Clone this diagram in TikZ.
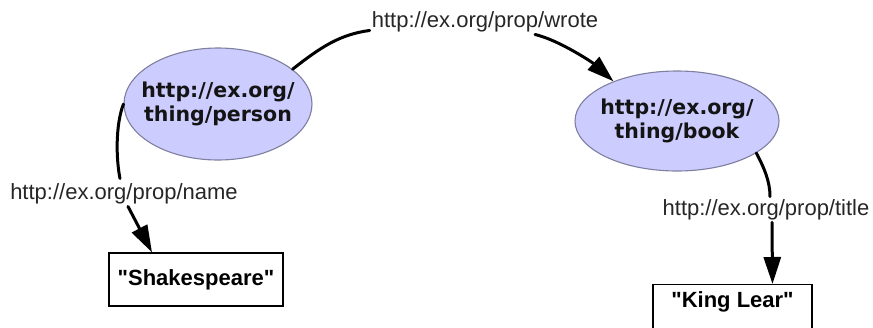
\documentclass[tikz,border=0pt]{standalone}
\usepackage{fontspec}
\setmainfont{Liberation Sans}
\newfontfamily\resfont{DejaVu Sans}
% plain family without TeX ligatures, so that " stays a straight quote
\newfontfamily\litfont{Liberation Sans}
\usetikzlibrary{arrows.meta,calc,shapes.geometric}
\definecolor{resfill}{HTML}{CCCCFF}
\definecolor{resline}{HTML}{7F7FA0}
\begin{document}
\begin{tikzpicture}[x=1pt,y=-1pt,
  res/.style={ellipse, draw=resline, line width=1.1pt, fill=resfill,
    inner xsep=-14pt, inner ysep=0pt, align=center,
    minimum width=188pt, minimum height=112pt,
    font=\resfont\bfseries\fontsize{20.5}{24.5}\selectfont, text=black!92},
  lab/.style={inner sep=0pt, font=\fontsize{22}{26}\selectfont, text=black!85},
  lit/.style={draw=black, line width=1.3pt, fill=white, inner sep=0pt,
    font=\litfont\bfseries\fontsize{22}{26}\selectfont},
  edge/.style={line width=3pt, black, line cap=round},
  arr/.style={edge, -{Triangle[length=27pt,width=17pt]}}]
\useasboundingbox (0,0) rectangle (873,327);
\clip (0,0) rectangle (873,327);

% resources
\node[res] (p) at (218,104) {http://ex.org/\\thing/person};
\node[res, minimum width=204pt, minimum height=100pt] (b) at (677,121)
  {http://ex.org/\\thing/book};

% property labels
\node[lab] (lw) at (485,22) {http://ex.org/prop/wrote};
\node[lab] (ln) at (124,194) {http://ex.org/prop/name};
\node[lab] (lt) at (766,210) {http://ex.org/prop/title};

% literals
\node[lit, minimum width=174pt, minimum height=53pt] (ss) at (196,279.5)
  {"Shakespeare"};
\node[lit, minimum width=159pt, text height=15pt, text depth=28pt,
  inner ysep=8pt, anchor=north] (kl) at (732.5,284) {"King Lear"};

% person -- wrote --> book
\draw[edge] (p.25) .. controls +(28,-22) and +(-30,4) .. ($(lw.south west)+(-2,-2)$);
\draw[arr] ($(lw.south)+(50,2)$) .. controls +(25,6) and +(-20,-18) .. (b.148);

% person -- name --> literal
\draw[edge] (p.west) .. controls +(-8,21) and +(-4,-20) .. ($(ln.north)+(-4,-5)$);
\draw[arr] ($(ln.south)+(4,2)$) -- ($(ss.north)+(-44,0)$);

% book -- title --> literal
\draw[edge] (b.-22) .. controls +(8,15) and +(0,-15) .. ($(lt.north)+(4,-3)$);
\draw[arr] ($(lt.south)+(6,2)$) -- ($(kl.north)+(40,0)$);
\end{tikzpicture}
\end{document}
